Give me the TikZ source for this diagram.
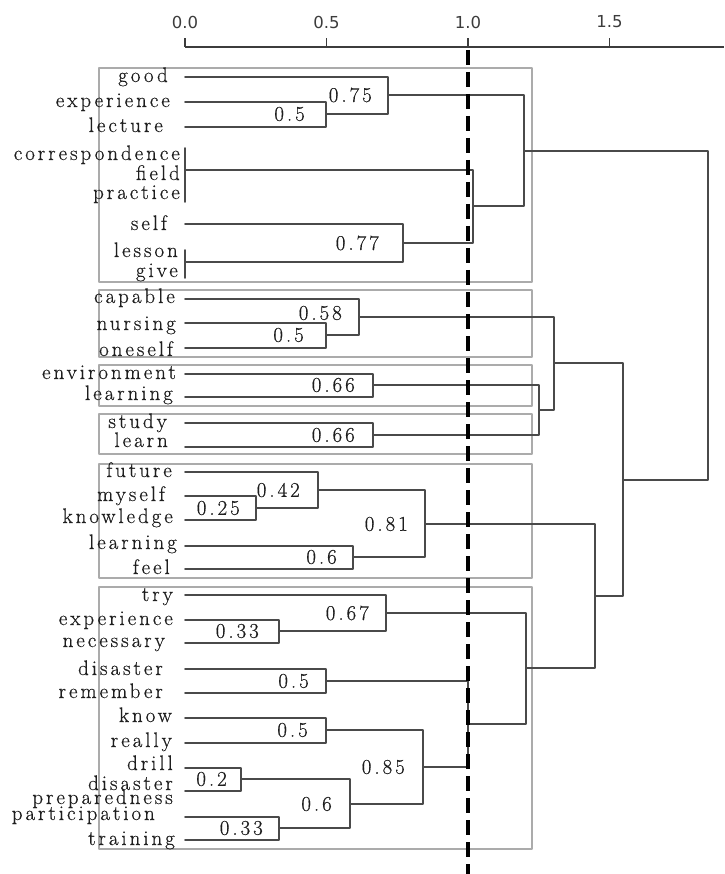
\documentclass[tikz,border=0pt]{standalone}
\usepackage{fontspec}
\setmainfont{Latin Modern Roman}
\newfontfamily\wordfont[LetterSpace=14, FakeBold=0.5]{Latin Modern Roman}
\newfontfamily\axisfont{DejaVu Sans}
\usetikzlibrary{positioning}

\definecolor{dendgray}{HTML}{4A4A4A}
\definecolor{boxgray}{HTML}{ABABAB}
\definecolor{txtgray}{HTML}{1E1E1E}
\definecolor{axgray}{HTML}{3C3C3C}

\tikzset{
  dend/.style={draw=dendgray, line width=1.7pt},
  grp/.style={draw=boxgray, line width=1.4pt},
  word/.style={anchor=base east, inner sep=0pt, text=txtgray, font=\wordfont\fontsize{21}{24}\selectfont},
  val/.style={inner sep=0pt, text=txtgray, font=\wordfont\fontsize{21}{24}\selectfont},
  axlabel/.style={inner sep=0pt, text=axgray, font=\axisfont\fontsize{16.5}{19}\selectfont},
  cutline/.style={draw=black, line width=4pt, line cap=butt, dash pattern=on 15pt off 7pt},
}

\begin{document}
\begin{tikzpicture}[x=1pt, y=-1pt, line cap=round, line join=round]

  %% ════ 分组框 ════
  \draw[grp] (99,68)  rectangle (532,282);
  \draw[grp] (99,290) rectangle (532,357);
  \draw[grp] (99,365) rectangle (532,406);
  \draw[grp] (99,414) rectangle (532,454);
  \draw[grp] (99,464) rectangle (532,578);
  \draw[grp] (99,587) rectangle (532,849);

  %% ════ 叶子起点 ════
  \coordinate (good)       at (185,77);
  \coordinate (exp-a)      at (185,102);
  \coordinate (lecture)    at (185,127);
  \coordinate (corr)       at (185,148);
  \coordinate (prac)       at (185,202);
  \coordinate (cfp)        at (185,170);
  \coordinate (self)       at (185,224);
  \coordinate (lesson)     at (185,250);
  \coordinate (give)       at (185,278);
  \coordinate (lg)         at (185,262);
  \coordinate (capable)    at (185,299);
  \coordinate (nursing)    at (185,323);
  \coordinate (oneself)    at (185,348);
  \coordinate (environ)    at (185,374);
  \coordinate (learning-a) at (185,397);
  \coordinate (study)      at (185,423);
  \coordinate (learn)      at (185,447);
  \coordinate (future)     at (185,472);
  \coordinate (myself)     at (185,496);
  \coordinate (knowledge)  at (185,520);
  \coordinate (learning-b) at (185,546);
  \coordinate (feel)       at (185,569);
  \coordinate (try)        at (185,595);
  \coordinate (exp-b)      at (185,620);
  \coordinate (necessary)  at (185,643);
  \coordinate (disaster)   at (185,669);
  \coordinate (remember)   at (185,693);
  \coordinate (know)       at (185,718);
  \coordinate (really)     at (185,743);
  \coordinate (drill)      at (185,768);
  \coordinate (disprep)    at (185,791);
  \coordinate (particip)   at (185,817);
  \coordinate (training)   at (185,840);

  %% ════ 合并点 (x = 高度, y = 两子中点，取整) ════
  \coordinate (m-el)   at (326,114);
  \coordinate (m-gel)  at (388,95);
  \coordinate (m-slg)  at (403,243);
  \coordinate (m-cs)   at (473,206);
  \coordinate (m-g1)   at (524,151);
  \coordinate (m-no)   at (326,335);
  \coordinate (m-cno)  at (359,317);
  \coordinate (m-env)  at (373,385);
  \coordinate (m-sl)   at (373,435);
  \coordinate (m-es)   at (539,410);
  \coordinate (m-g2)   at (554,363);
  \coordinate (m-mk)   at (256,508);
  \coordinate (m-fmk)  at (318,490);
  \coordinate (m-lf)   at (353,557);
  \coordinate (m-g5)   at (425,524);
  \coordinate (m-en)   at (279,631);
  \coordinate (m-ten)  at (386,613);
  \coordinate (m-dr)   at (326,681);
  \coordinate (m-kr)   at (326,730);
  \coordinate (m-dd)   at (241,779);
  \coordinate (m-pt)   at (279,828);
  \coordinate (m-ddpt) at (350,804);
  \coordinate (m-kd)   at (423,767);
  \coordinate (m-dk)   at (468,724);
  \coordinate (m-g6)   at (526,668);
  \coordinate (m-g56)  at (595,596);
  \coordinate (m-mid)  at (623,480);
  \coordinate (m-root) at (708,315);

  %% ════ 树枝 ════
  \draw[dend] (corr) -- (prac);
  \draw[dend] (lesson) -- (give);
  \draw[dend] (exp-a) -| (m-el) |- (lecture);
  \draw[dend] (good) -| (m-gel) |- (m-el);
  \draw[dend] (self) -| (m-slg) |- (lg);
  \draw[dend] (cfp) -| (m-cs) |- (m-slg);
  \draw[dend] (m-gel) -| (m-g1) |- (m-cs);
  \draw[dend] (nursing) -| (m-no) |- (oneself);
  \draw[dend] (capable) -| (m-cno) |- (m-no);
  \draw[dend] (environ) -| (m-env) |- (learning-a);
  \draw[dend] (study) -| (m-sl) |- (learn);
  \draw[dend] (m-env) -| (m-es) |- (m-sl);
  \draw[dend] (m-cno) -| (m-g2) |- (m-es);
  \draw[dend] (myself) -| (m-mk) |- (knowledge);
  \draw[dend] (future) -| (m-fmk) |- (m-mk);
  \draw[dend] (learning-b) -| (m-lf) |- (feel);
  \draw[dend] (m-fmk) -| (m-g5) |- (m-lf);
  \draw[dend] (exp-b) -| (m-en) |- (necessary);
  \draw[dend] (try) -| (m-ten) |- (m-en);
  \draw[dend] (disaster) -| (m-dr) |- (remember);
  \draw[dend] (know) -| (m-kr) |- (really);
  \draw[dend] (drill) -| (m-dd) |- (disprep);
  \draw[dend] (particip) -| (m-pt) |- (training);
  \draw[dend] (m-dd) -| (m-ddpt) |- (m-pt);
  \draw[dend] (m-kr) -| (m-kd) |- (m-ddpt);
  \draw[dend] (m-dr) -| (m-dk) |- (m-kd);
  \draw[dend] (m-ten) -| (m-g6) |- (m-dk);
  \draw[dend] (m-g5) -| (m-g56) |- (m-g6);
  \draw[dend] (m-g2) -| (m-mid) |- (m-g56);
  \draw[dend] (m-g1) -| (m-root) |- (m-mid);

  %% ════ 叶子标签 ════
  \node[word] (t-good)      at (168,82)  {good};
  \node[word] (t-exp-a)     at (170,107) {experience};
  \node[word] (t-lecture)   at (163,132) {lecture};
  \node[word] (t-corr)      at (180,160) {correspondence};
  \node[word] (t-field)     at (180,180) {field};
  \node[word] (t-prac)      at (180,199) {practice};
  \node[word] (t-self)      at (167,230) {self};
  \node[word] (t-lesson)    at (178,257) {lesson};
  \node[word] (t-give)      at (178,277) {give};
  \node[word] (t-capable)   at (175,303) {capable};
  \node[word] (t-nursing)   at (176,330) {nursing};
  \node[word] (t-oneself)   at (173,356) {oneself};
  \node[word] (t-environ)   at (176,379) {environment};
  \node[word] (t-learning-a) at (173,400) {learning};
  \node[word] (t-study)     at (167,428) {study};
  \node[word] (t-learn)     at (168,447) {learn};
  \node[word] (t-future)    at (172,477) {future};
  \node[word] (t-myself)    at (165,501) {myself};
  \node[word] (t-knowledge) at (173,523) {knowledge};
  \node[word] (t-learning-b) at (177,549) {learning};
  \node[word] (t-feel)      at (170,574) {feel};
  \node[word] (t-try)       at (173,601) {try};
  \node[word] (t-exp-b)     at (173,625) {experience};
  \node[word] (t-necessary) at (165,647) {necessary};
  \node[word] (t-disaster)  at (163,675) {disaster};
  \node[word] (t-remember)  at (163,698) {remember};
  \node[word] (t-know)      at (172,722) {know};
  \node[word] (t-really)    at (172,747) {really};
  \node[word] (t-drill)     at (173,770) {drill};
  \node[word] (t-disaster2) at (173,790) {disaster};
  \node[word] (t-prep)      at (173,804) {preparedness};
  \node[word] (t-particip)  at (155,820) {participation};
  \node[word] (t-training)  at (175,845) {training};

  %% ════ 合并高度 ════
  \node[val, left=21pt of m-el]   (v-el)   {0.5};
  \node[val, left=16pt of m-gel]  (v-gel)  {0.75};
  \node[val, left=24pt of m-slg]  (v-slg)  {0.77};
  \node[val, left=17pt of m-cno, yshift=4pt] (v-cno) {0.58};
  \node[val, left=22pt of m-no]   (v-no)   {0.5};
  \node[val, left=18pt of m-env]  (v-env)  {0.66};
  \node[val, left=18pt of m-sl]   (v-sl)   {0.66};
  \node[val, left=16pt of m-mk]   (v-mk)   {0.25};
  \node[val, left=18pt of m-fmk]  (v-fmk)  {0.42};
  \node[val, left=16pt of m-lf]   (v-lf)   {0.6};
  \node[val, left=17pt of m-g5]   (v-g5)   {0.81};
  \node[val, left=20pt of m-en]   (v-en)   {0.33};
  \node[val, left=17pt of m-ten]  (v-ten)  {0.67};
  \node[val, left=17pt of m-dr]   (v-dr)   {0.5};
  \node[val, left=18pt of m-kr]   (v-kr)   {0.5};
  \node[val, left=14pt of m-dd]   (v-dd)   {0.2};
  \node[val, left=16pt of m-pt]   (v-pt)   {0.33};
  \node[val, left=18pt of m-ddpt] (v-ddpt) {0.6};
  \node[val, left=18pt of m-kd]   (v-kd)   {0.85};

  %% ════ 截断线 ════
  \coordinate (cut-top) at (468,50);
  \coordinate (cut-bot) at (468,874);
  \draw[cutline] (cut-top) -- (cut-bot);

  %% ════ 坐标轴 ════
  \coordinate (ax-0)   at (185,47);
  \coordinate (ax-end) at (724,47);
  \draw[draw=axgray, line width=1.3pt, line cap=butt] (ax-0) -- (ax-end);
  \foreach \v/\t [count=\i] in {0/0.0, 0.5/0.5, 1/1.0, 1.5/1.5} {
    \coordinate (tk-\i) at (185+\v*283,47);
    \draw[draw=axgray, line width=1.3pt, line cap=butt] (tk-\i) -- ++(0,-9);
    \node[axlabel] (tl-\i) at (185+\v*283,22) {\t};
  }

  % 钉死画布
  \pgfresetboundingbox
  \path[use as bounding box] (0,0) rectangle (724,874);
\end{tikzpicture}
\end{document}
